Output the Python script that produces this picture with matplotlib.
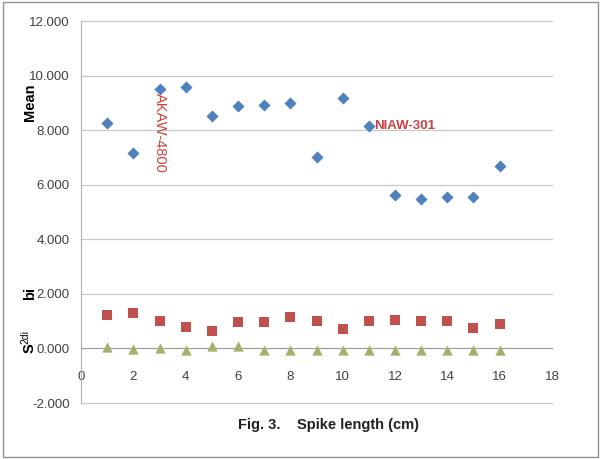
import numpy as np
import matplotlib.pyplot as plt
from matplotlib.patches import Rectangle

plt.rcParams['font.family'] = ['Liberation Sans', 'DejaVu Sans']

spike_len = [1, 2, 3, 4, 5, 6, 7, 8, 9, 10, 11, 12, 13, 14, 15, 16]
mean_vals = [8.25, 7.15, 9.49, 9.58, 8.52, 8.87, 8.93, 8.98, 7.03, 9.19, 8.14, 5.62, 5.49, 5.56, 5.54, 6.68]
bi_vals = [1.23, 1.30, 1.00, 0.79, 0.63, 0.96, 0.98, 1.16, 1.01, 0.73, 1.02, 1.03, 1.01, 1.01, 0.74, 0.91]
s2di_vals = [0.06, -0.03, 0.02, -0.05, 0.08, 0.10, -0.04, -0.04, -0.04, -0.04, -0.04, -0.04, -0.04, -0.04, -0.04, -0.04]

y_ticks = np.arange(-2, 13, 2)
x_ticks = np.arange(0, 19, 2)

fig = plt.figure(figsize=(6.01, 4.59), dpi=100)
ax = fig.add_axes([81/601, 1-403/459, (552-81)/601, (403-21)/459])

ax.scatter(spike_len, mean_vals, marker='D', s=38, color='#4F81BD', zorder=3, linewidths=0)
ax.scatter(spike_len, bi_vals, marker='s', s=60, color='#C0504D', zorder=3, linewidths=0)
ax.scatter(spike_len, s2di_vals, marker='^', s=55, color='#A5B06A', zorder=3, linewidths=0)

ax.set_xlim(0, 18)
ax.set_ylim(-2, 12)
ax.set_yticks(y_ticks)
ax.set_yticklabels(['%.3f' % v for v in y_ticks])
ax.set_xticks(x_ticks)
for yv in y_ticks:
    ax.axhline(yv, color='#C8C8C8', linewidth=0.9, zorder=0, clip_on=False)

for s in ['top', 'right']:
    ax.spines[s].set_visible(False)
ax.spines['left'].set_color('#B0B0B0')
ax.spines['bottom'].set_position(('data', 0))
ax.spines['bottom'].set_color('#A0A0A0')
ax.tick_params(axis='y', length=0, labelsize=9.5, colors='#404040', pad=8)
ax.tick_params(axis='x', length=0, labelsize=9.5, colors='#404040', pad=16)

ax.text(3, 9.35, 'AKAW-4800', color='#D04040', fontsize=10.5, rotation=-90,
        rotation_mode='anchor', ha='left', va='center')
ax.text(11.2, 8.14, 'NIAW-301', color='#C84040', fontsize=9.5, fontweight='bold',
        ha='left', va='center')

fig.text(30/601, 1-102/459, 'Mean', rotation=90, fontsize=10.5, fontweight='bold',
         ha='center', va='center')
fig.text(30/601, 1-293/459, 'bi', rotation=90, fontsize=10.5, fontweight='bold',
         ha='center', va='center')
fig.text(30/601, 1-348/459, 'S', rotation=90, fontsize=10.5, fontweight='bold',
         ha='center', va='center')
fig.text(25/601, 1-337/459, '2di', rotation=90, fontsize=7.5,
         ha='center', va='center')

fig.text(328/601, 1-425/459, 'Fig. 3.    Spike length (cm)', fontsize=10.5,
         fontweight='bold', ha='center', va='center', color='#202020')

fig.patches.append(Rectangle((3/601, 1-457/459), 595/601, 455/459, transform=fig.transFigure,
                             fill=False, edgecolor='#909090', linewidth=1))

fig.savefig('out.png', dpi=100)
